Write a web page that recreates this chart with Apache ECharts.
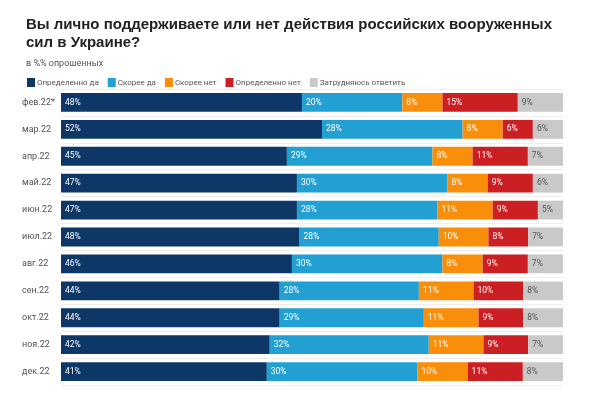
<!DOCTYPE html>
<html>
<head>
<meta charset="utf-8">
<script src="https://cdn.jsdelivr.net/npm/echarts@6/dist/echarts.min.js"></script>
<style>
  html, body { margin: 0; padding: 0; background: #fff; }
  #chart { width: 600px; height: 397px; }
</style>
</head>
<body>
<div id="chart"></div>
<script>
var months = ['фев.22*', 'мар.22', 'апр.22', 'май.22', 'июн.22', 'июл.22', 'авг.22', 'сен.22', 'окт.22', 'ноя.22', 'дек.22'];
var names = ['Определенно да', 'Скорее да', 'Скорее нет', 'Определенно нет', 'Затрудняюсь ответить'];
var definitelyYes = [48, 52, 45, 47, 47, 48, 46, 44, 44, 42, 41];
var ratherYes     = [20, 28, 29, 30, 28, 28, 30, 28, 29, 32, 30];
var ratherNo      = [8, 8, 8, 8, 11, 10, 8, 11, 11, 11, 10];
var definitelyNo  = [15, 6, 11, 9, 9, 8, 9, 10, 9, 9, 11];
var hardToSay     = [9, 6, 7, 6, 5, 7, 7, 8, 8, 7, 8];

var colors = ['#0c3766', '#22a0d3', '#f98e0a', '#cc1f24', '#c9c9c9'];
var labelColors = ['#ffffff', '#ffffff', '#ffffff', '#ffffff', '#555555'];
var all = [definitelyYes, ratherYes, ratherNo, definitelyNo, hardToSay];

// суммы по строкам, чтобы бары доходили до 100%
var totals = months.map(function (m, i) {
    return all.reduce(function (s, arr) { return s + arr[i]; }, 0);
});

var chart = echarts.init(document.getElementById('chart'));
var series = all.map(function (arr, k) {
    return {
        name: names[k],
        type: 'bar',
        stack: 'total',
        barCategoryGap: '30%',
        itemStyle: { color: colors[k] },
        label: {
            show: true,
            position: 'insideLeft',
            distance: 4,
            color: labelColors[k],
            fontSize: 8.5,
            fontFamily: 'Roboto',
            formatter: function (p) { return arr[p.dataIndex] + '%'; }
        },
        data: arr.map(function (v, i) { return v / totals[i] * 100; })
    };
});

chart.setOption({
    animation: false,
    textStyle: { fontFamily: 'Roboto' },
    title: {
        text: 'Вы лично поддерживаете или нет действия российских вооруженных\nсил в Украине?',
        left: 21,
        top: 11,
        textStyle: { fontSize: 15, fontWeight: 'bold', color: '#222', lineHeight: 18, fontFamily: 'Liberation Sans' },
        subtext: 'в %% опрошенных',
        subtextStyle: { fontSize: 9, color: '#555' },
        itemGap: 7
    },
    legend: {
        data: names,
        left: 22,
        top: 73,
        icon: 'rect',
        itemWidth: 8,
        itemHeight: 9,
        itemGap: 9,
        textStyle: { fontSize: 8, color: '#555', padding: [0, 0, 0, -3] }
    },
    grid: { left: 61, right: 37, top: 89, bottom: 12 },
    xAxis: {
        type: 'value',
        min: 0,
        max: 100,
        show: false
    },
    yAxis: {
        type: 'category',
        data: months,
        inverse: true,
        axisLine: { show: false },
        axisTick: { show: false },
        splitLine: { show: true, lineStyle: { color: '#eeeeee', width: 1 } },
        axisLabel: { align: 'left', margin: 39, fontSize: 9, color: '#555' }
    },
    series: series
});
</script>
</body>
</html>
